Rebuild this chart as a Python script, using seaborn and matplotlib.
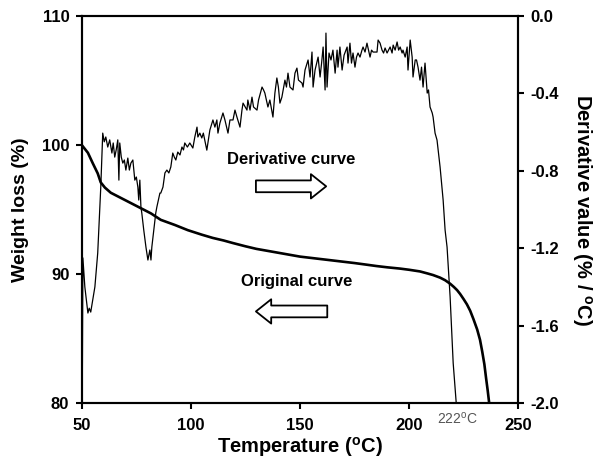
import numpy as np
import pandas as pd
import matplotlib
matplotlib.use("Agg")
import matplotlib.pyplot as plt
import seaborn as sns

# ---- data ----
weight_temp = [50.0, 52.8, 55.0, 57.3, 58.7, 60.6, 63.3, 67.9, 72.5, 77.1, 81.7, 86.2,
               92.7, 98.6, 105.0, 110.0, 115.0, 119.3, 125.0, 130.0, 135.0, 140.0, 145.0,
               150.0, 155.0, 160.0, 165.0, 170.0, 175.0, 180.7, 185.0, 190.0, 195.9,
               200.0, 205.0, 208.3, 211.0, 214.2, 216.5, 218.8, 220.5, 222.0, 223.4,
               225.0, 226.5, 228.0, 229.5, 231.2, 232.5, 233.5, 234.5, 235.3, 236.0, 236.7]
weight_pct = [100.0, 99.4, 98.6, 97.8, 97.1, 96.7, 96.3, 95.9, 95.5, 95.1, 94.7, 94.2,
              93.8, 93.4, 93.05, 92.8, 92.6, 92.4, 92.15, 91.95, 91.8, 91.65, 91.5,
              91.35, 91.25, 91.15, 91.05, 90.95, 90.85, 90.72, 90.62, 90.52, 90.42,
              90.33, 90.2, 90.05, 89.92, 89.72, 89.52, 89.25, 89.0, 88.75, 88.45,
              88.05, 87.65, 87.15, 86.5, 85.7, 84.9, 84.0, 83.0, 81.9, 81.0, 80.0]

deriv_temp = [50.2, 50.5, 51.4, 52.3, 52.8, 53.4, 54.1, 56.0, 57.3, 58.7, 59.6, 60.3,
              61.0, 61.9, 62.8, 63.8, 64.4, 65.1, 65.8, 66.5, 67.0, 67.4, 68.1, 68.8,
              69.5, 70.2, 71.1, 71.8, 72.5, 73.4, 74.3, 75.0, 75.7, 76.1, 76.6, 77.1,
              77.5, 78.4, 79.4, 80.3, 81.2, 81.7, 82.1, 83.0, 83.9, 84.4, 85.8, 86.2,
              87.2, 88.1, 89.0, 89.9, 90.8, 91.7, 92.4, 93.1, 94.0, 95.0, 95.9, 96.6,
              97.2, 98.4, 99.5, 100.9, 101.8, 102.8, 103.2, 104.1, 105.0, 105.7, 107.3,
              108.0, 108.7, 110.1, 111.0, 111.9, 112.4, 113.3, 114.7, 115.6, 117.0,
              117.9, 119.3, 120.2, 121.1, 122.5, 123.4, 123.9, 125.7, 126.1, 127.1,
              128.0, 128.7, 130.3, 131.0, 132.6, 133.3, 133.9, 135.3, 136.2, 137.6,
              138.5, 139.4, 140.1, 140.8, 141.7, 143.1, 143.8, 144.5, 145.4, 146.8,
              147.7, 148.6, 149.3, 150.9, 151.4, 152.3, 153.7, 154.6, 155.5, 156.0,
              156.9, 158.3, 159.2, 159.9, 160.6, 161.5, 161.9, 162.4, 163.3, 164.2,
              165.1, 166.1, 167.0, 167.4, 168.3, 169.3, 170.2, 171.6, 172.0, 172.9,
              173.6, 174.3, 175.2, 175.9, 176.6, 177.5, 178.4, 178.9, 179.8, 180.7,
              181.4, 182.1, 182.8, 183.5, 185.3, 185.8, 186.7, 187.6, 188.3, 189.0,
              189.9, 190.6, 191.3, 192.2, 192.7, 193.6, 194.5, 195.2, 195.9, 196.8,
              197.2, 198.2, 199.1, 199.5, 200.5, 201.4, 201.8, 202.8, 203.4, 204.1,
              205.0, 205.7, 206.4, 207.3, 208.3, 208.9, 209.6, 210.6, 211.0, 211.9,
              212.8, 214.2, 215.6, 216.5, 217.4, 218.8, 220.2, 221.6]
deriv_val = [-2.0, -1.25, -1.40, -1.49, -1.535, -1.51, -1.53, -1.40, -1.225, -0.884, -0.605, -0.65,
             -0.625, -0.677, -0.64, -0.708, -0.656, -0.729, -0.69, -0.64, -0.848, -0.656, -0.729, -0.76,
             -0.744, -0.796, -0.734, -0.796, -0.76, -0.744, -0.848, -0.832, -0.884, -0.951, -0.848, -0.987,
             -1.018, -1.106, -1.194, -1.261, -1.209, -1.261, -1.194, -1.106, -1.018, -0.987, -0.915, -0.915,
             -0.884, -0.811, -0.796, -0.811, -0.78, -0.708, -0.729, -0.744, -0.703, -0.718, -0.677, -0.692,
             -0.656, -0.677, -0.656, -0.682, -0.625, -0.574, -0.625, -0.605, -0.63, -0.605, -0.693,
             -0.64, -0.589, -0.537, -0.574, -0.537, -0.605, -0.553, -0.501, -0.537, -0.605,
             -0.537, -0.537, -0.486, -0.522, -0.574, -0.486, -0.45, -0.486, -0.434, -0.486,
             -0.419, -0.47, -0.486, -0.434, -0.367, -0.382, -0.398, -0.47, -0.434, -0.522,
             -0.398, -0.32, -0.367, -0.45, -0.419, -0.331, -0.367, -0.295, -0.367, -0.382,
             -0.295, -0.269, -0.331, -0.346, -0.367, -0.279, -0.227, -0.315, -0.186, -0.367,
             -0.279, -0.212, -0.315, -0.243, -0.16, -0.382, -0.088, -0.367, -0.191, -0.227,
             -0.176, -0.295, -0.176, -0.264, -0.16, -0.279, -0.202, -0.16, -0.243, -0.14,
             -0.243, -0.191, -0.264, -0.212, -0.191, -0.212, -0.176, -0.16, -0.186, -0.14,
             -0.176, -0.212, -0.176, -0.186, -0.186, -0.124, -0.14, -0.176, -0.191, -0.165,
             -0.191, -0.176, -0.16, -0.191, -0.15, -0.176, -0.134, -0.176, -0.16, -0.191,
             -0.176, -0.212, -0.16, -0.279, -0.124, -0.212, -0.315, -0.227, -0.227, -0.264,
             -0.331, -0.264, -0.367, -0.243, -0.398, -0.382, -0.47, -0.501, -0.522, -0.605,
             -0.641, -0.78, -0.951, -1.106, -1.194, -1.452, -1.793, -2.0]

x_ticks = [50, 100, 150, 200, 250]
left_ticks = [80, 90, 100, 110]
right_ticks = [-2.0, -1.6, -1.2, -0.8, -0.4, 0.0]

# ---- style ----
sns.set_style("ticks")
plt.rcParams["font.family"] = ["Liberation Sans", "DejaVu Sans"]
plt.rcParams["mathtext.fontset"] = "custom"
plt.rcParams["mathtext.rm"] = "Liberation Sans"
plt.rcParams["mathtext.bf"] = "Liberation Sans:bold"
plt.rcParams["axes.linewidth"] = 1.5
plt.rcParams["text.color"] = "black"
plt.rcParams["axes.labelcolor"] = "black"
plt.rcParams["xtick.color"] = "black"
plt.rcParams["ytick.color"] = "black"

fig = plt.figure(figsize=(5.97, 4.59), dpi=100)
ax = fig.add_axes([0.137, 0.122, 0.731, 0.843])
ax2 = ax.twinx()

wdf = pd.DataFrame({"T": weight_temp, "W": weight_pct})
ddf = pd.DataFrame({"T": deriv_temp, "D": deriv_val})

sns.lineplot(data=wdf, x="T", y="W", ax=ax, color="black", linewidth=1.9,
             sort=False, estimator=None)
sns.lineplot(data=ddf, x="T", y="D", ax=ax2, color="black", linewidth=0.9,
             sort=False, estimator=None)

ax.set_xlim(50, 250)
ax.set_ylim(80, 110)
ax2.set_ylim(-2.0, 0.0)
ax.set_xticks(x_ticks)
ax.set_yticks(left_ticks)
ax2.set_yticks(right_ticks)
ax2.set_yticklabels([f"{v:.1f}" for v in right_ticks])

for a in (ax, ax2):
    for s in a.spines.values():
        s.set_visible(True)
        s.set_linewidth(1.5)
        s.set_color("black")
    a.tick_params(direction="out", length=4, width=1.5, labelsize=12, colors="black", pad=5)
    for lab in a.get_xticklabels() + a.get_yticklabels():
        lab.set_fontweight("bold")
ax.tick_params(axis="x", pad=7)

ax.set_xlabel(r"Temperature ($\mathbf{^{o}}$C)", fontsize=14.5, fontweight="bold",
              labelpad=1, color="black")
ax.set_ylabel("Weight loss (%)", fontsize=14, fontweight="bold", labelpad=9, color="black")
ax2.set_ylabel(r"Derivative value (% / $\mathbf{^{o}}$C)", fontsize=14.5, fontweight="bold",
               rotation=270, labelpad=25, color="black")

ax.text(145.9, 98.9, "Derivative curve", fontsize=12, fontweight="bold",
        ha="center", va="center", color="black")
ax.text(148.6, 89.4, "Original curve", fontsize=12, fontweight="bold",
        ha="center", va="center", color="black")

arrow_style = "simple,head_length=1.1,head_width=1.75,tail_width=0.85"
ax.annotate("", xy=(162.0, 96.8), xytext=(129.8, 96.8),
            arrowprops=dict(arrowstyle=arrow_style, fc="white", ec="black", lw=1.3,
                            mutation_scale=10, shrinkA=0, shrinkB=0))
ax.annotate("", xy=(129.8, 87.1), xytext=(162.5, 87.1),
            arrowprops=dict(arrowstyle=arrow_style, fc="white", ec="black", lw=1.3,
                            mutation_scale=10, shrinkA=0, shrinkB=0))

ax.text(222.0, 79.4, r"222$^{\rm o}$C", fontsize=10, color="#555555",
        ha="center", va="top")

fig.savefig("out.png", dpi=100)
